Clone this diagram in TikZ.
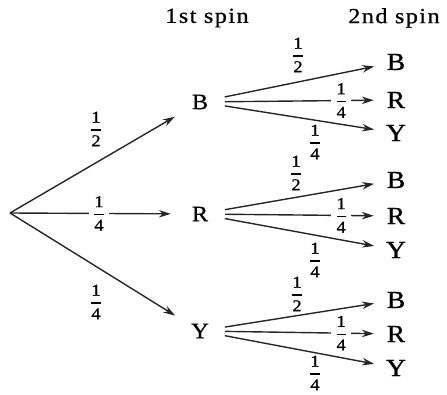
\documentclass[tikz,border=0pt]{standalone}
\usepackage{fontspec}
\usepackage{amsmath}
\setmainfont{Liberation Serif}[FakeStretch=1.12]
\usetikzlibrary{arrows.meta}
\newcommand\fr[2]{$\genfrac{}{}{1.1pt}{0}{\mbox{#1}}{\mbox{#2}}$}
\begin{document}
\begin{tikzpicture}[x=1pt,y=-1pt,
  lvlone/.style={circle,inner sep=0pt,minimum size=50pt,font=\fontsize{22}{26}\selectfont\addfontfeatures{FakeBold=0.6}},
  lvltwo/.style={circle,inner sep=0pt,minimum size=40pt,font=\fontsize{24.5}{28}\selectfont\addfontfeatures{FakeBold=1}},
  head/.style={font=\fontsize{21.5}{25}\selectfont\addfontfeatures{LetterSpace=7,FakeBold=0.7}},
  prob/.style={font=\fontsize{16.5}{18}\selectfont\addfontfeatures{FakeBold=1.2},inner sep=1pt},
  inl/.style={prob,fill=white,inner xsep=4pt},
  arr/.style={draw=black!85,line width=1.4pt,-{Stealth[length=12pt,width=7.5pt]}},
]
\useasboundingbox (0,0) rectangle (447,395);
\node[head] (h1) at (207,18) {1st spin};
\node[head] (h2) at (394,18) {2nd spin};
\coordinate (O) at (10,213);
\node[lvlone] (B) at (200,102) {B};
\node[lvlone] (R) at (200,214) {R};
\node[lvlone] (Y) at (200,331) {Y};
\node[lvltwo] (BB) at (396,62) {B};
\node[lvltwo] (BR) at (396,100) {R};
\node[lvltwo] (BY) at (396,133) {Y};
\node[lvltwo] (RB) at (396,180) {B};
\node[lvltwo] (RR) at (396,216) {R};
\node[lvltwo] (RY) at (396,250) {Y};
\node[lvltwo] (YB) at (396,300) {B};
\node[lvltwo] (YR) at (396,334) {R};
\node[lvltwo] (YY) at (396,368) {Y};
% first spin
\draw[arr,shorten >=4pt] (O) -- (B);
\draw[arr,shorten >=4pt] (O) -- node[inl,pos=0.54]{\fr14} (R);
\draw[arr,shorten >=4pt] (O) -- (Y);
\node[prob] (pB) at (96,129) {\fr12};
\node[prob] (pY) at (96,302) {\fr14};
% second spin
\foreach \a in {B,R,Y}{
  \draw[arr,shorten >=2pt] (\a) -- (\a B);
  \draw[arr,shorten >=2pt] (\a) -- node[inl,pos=0.77]{\fr14} (\a R);
  \draw[arr,shorten >=2pt] (\a) -- (\a Y);
}
\node[prob] (qB1) at (298,55) {\fr12};
\node[prob] (qB3) at (315,142) {\fr14};
\node[prob] (qR1) at (296,173) {\fr12};
\node[prob] (qR3) at (315,260) {\fr14};
\node[prob] (qY1) at (297,294) {\fr12};
\node[prob] (qY3) at (315,373) {\fr14};
\end{tikzpicture}
\end{document}
